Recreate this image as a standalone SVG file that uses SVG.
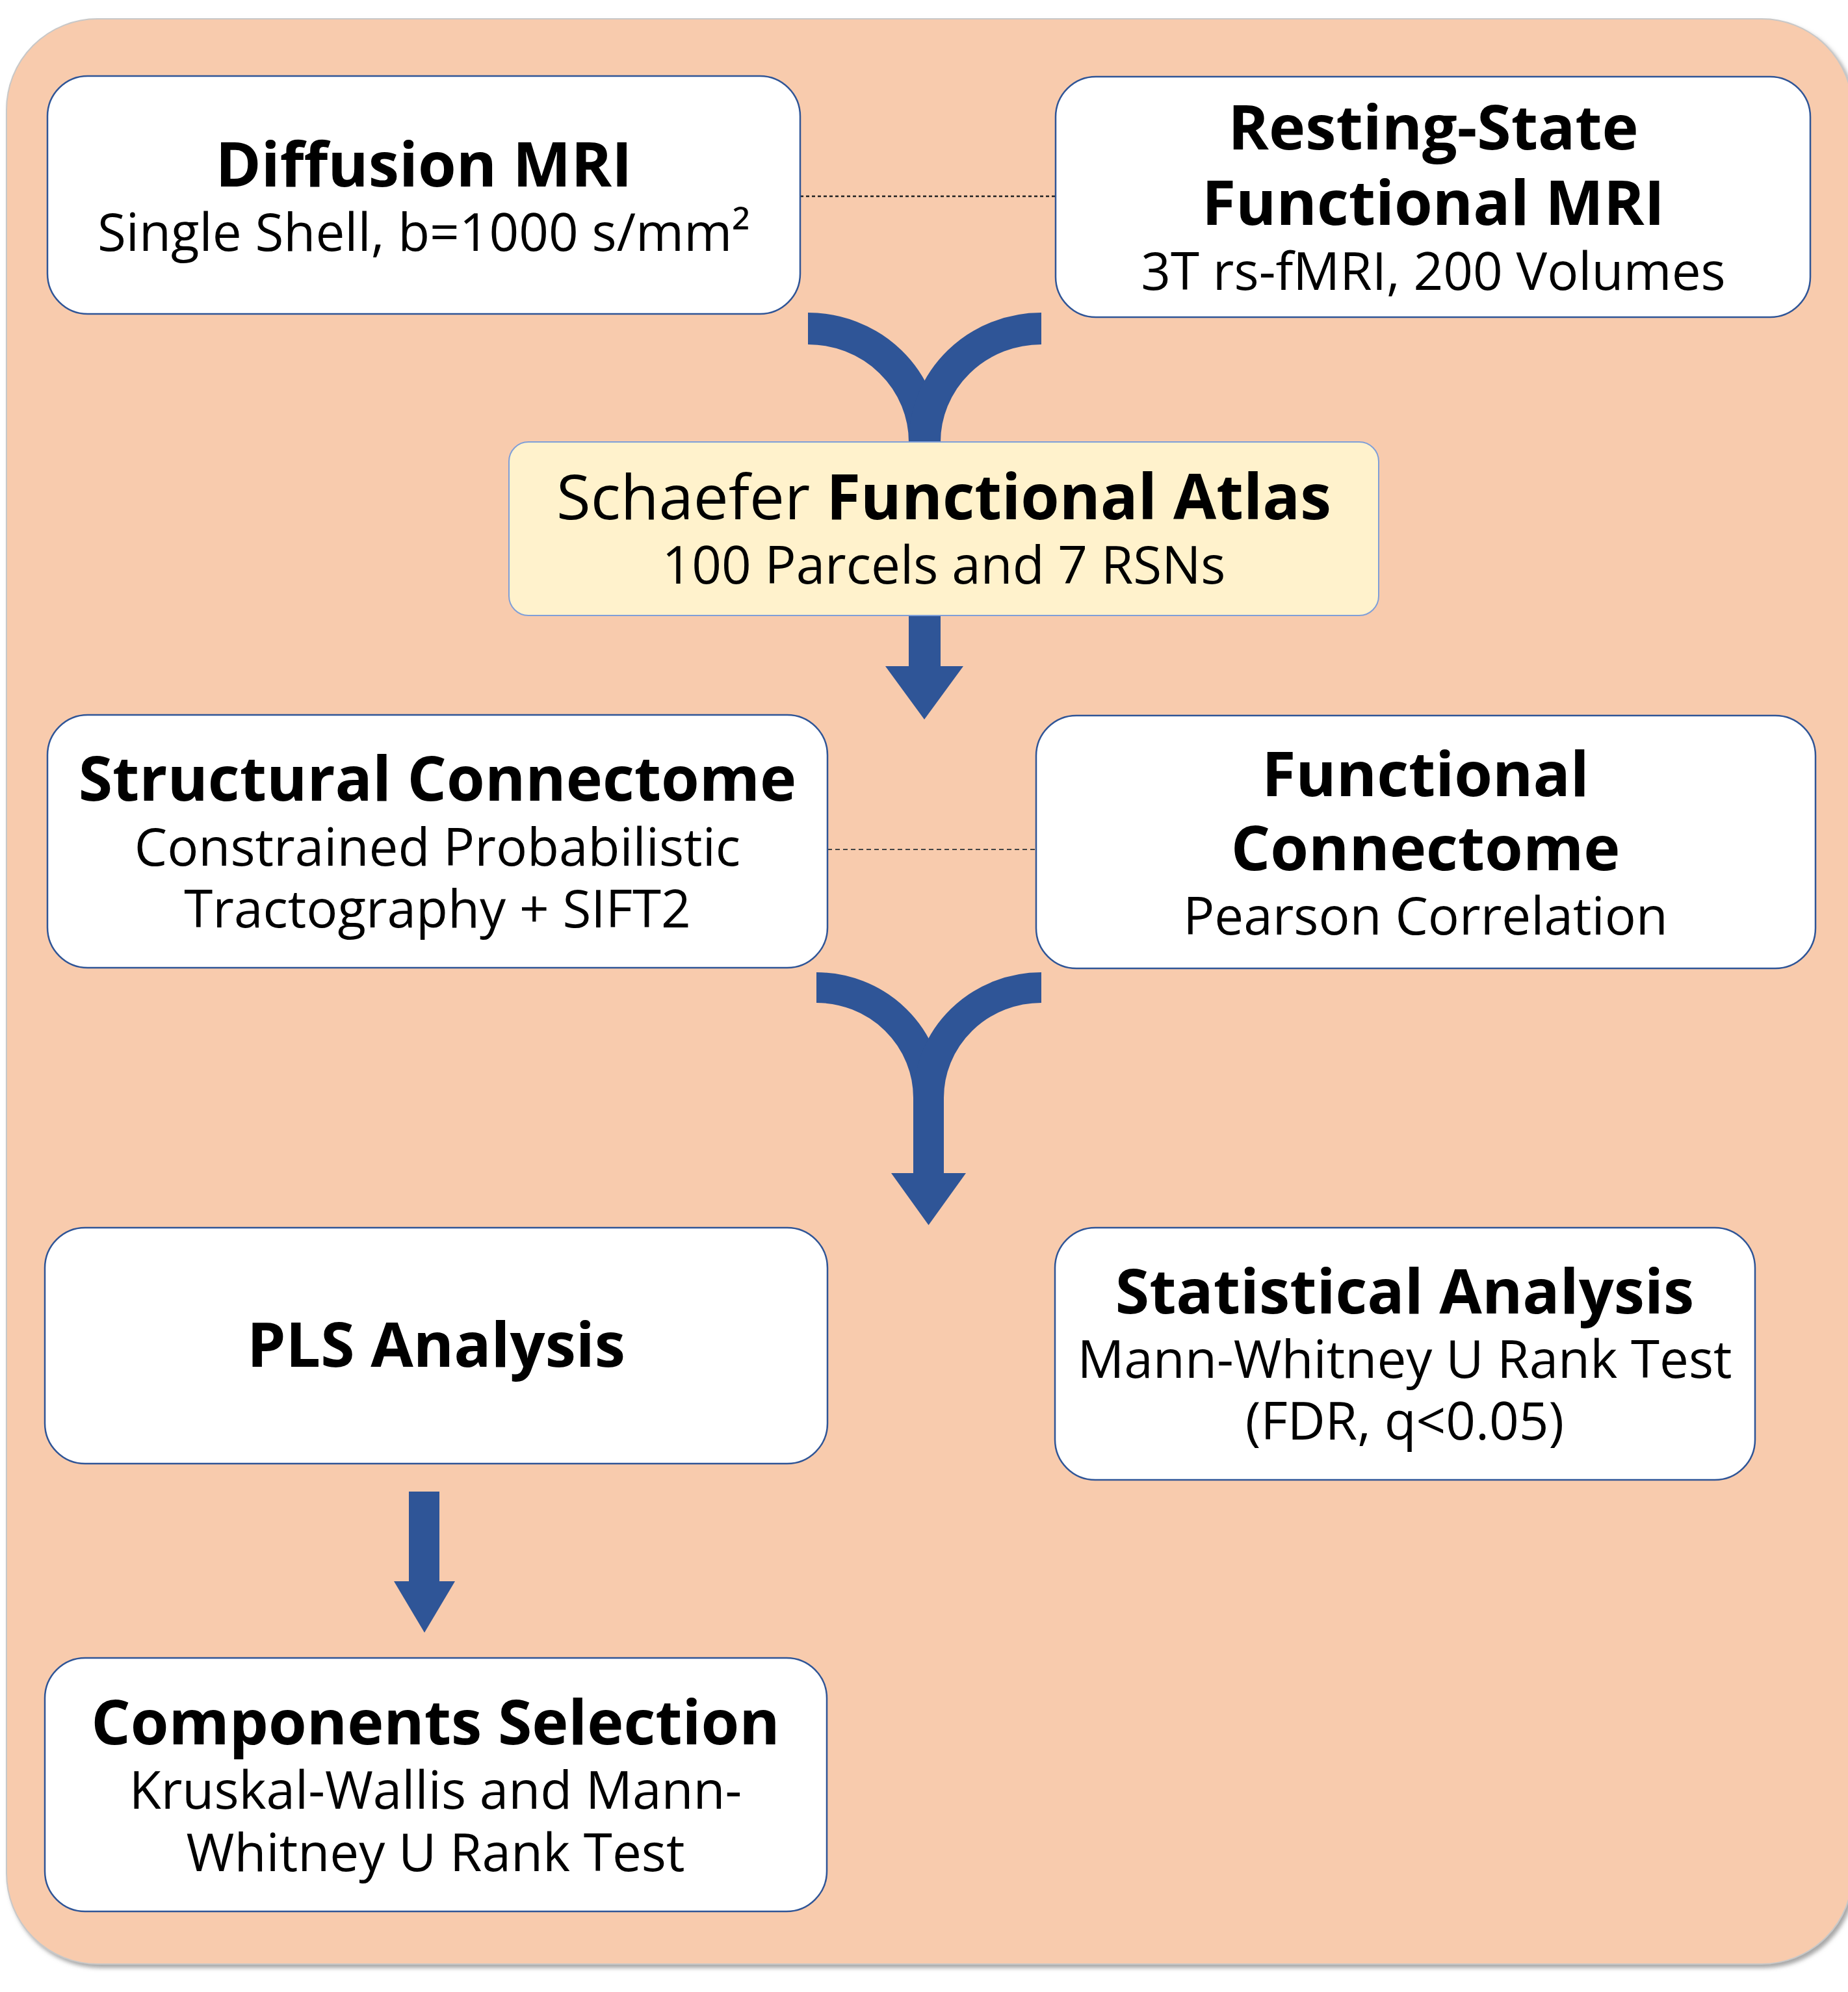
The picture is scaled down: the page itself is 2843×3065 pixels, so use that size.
<svg xmlns="http://www.w3.org/2000/svg" width="2843" height="3065" viewBox="0 0 2843 3065">
<style>
.box{fill:#FFFFFF;stroke:#2F5597;stroke-width:2.5}
.atlas{fill:#FFF2CC;stroke:#7F9FD8;stroke-width:2}
.t{font-family:"Open Sans","Noto Sans","Liberation Sans",sans-serif;fill:#000000;text-anchor:middle}
.b{font-weight:700;font-size:95px}
.r{font-weight:400;font-size:80px}
.arm{fill:none;stroke:#2F5597;stroke-linecap:butt}
.head{fill:#2F5597}
.dot{stroke:#222222;stroke-width:2.5;stroke-dasharray:5 4;fill:none}
</style>
<defs>
<filter id="sh" x="-5%" y="-5%" width="110%" height="110%">
<feDropShadow dx="4" dy="5" stdDeviation="3" flood-color="#808080" flood-opacity="0.7"/>
</filter>
</defs>
<rect x="10" y="29" width="2840" height="2993" rx="140" ry="140" fill="#F8CBAD" stroke="#C8C8C8" stroke-width="2" filter="url(#sh)"/>

<g id="connectors">
<line class="dot" x1="1231" y1="302" x2="1624" y2="302"/>
<line class="dot" x1="1273" y1="1307" x2="1594" y2="1307" style="stroke:#444444;stroke-width:2;stroke-dasharray:7 5"/>
<path class="arm" stroke-width="49" d="M1243,505.5 A179.5,174.5 0 0 1 1422.5,680"/>
<path class="arm" stroke-width="49" d="M1602,505.5 A179.5,174.5 0 0 0 1422.5,680"/>
<rect class="head" x="1398" y="946" width="49" height="80"/>
<polygon class="head" points="1362,1025 1482,1025 1422,1107"/>
<path class="arm" stroke-width="47" d="M1256,1519.5 A172.5,169.5 0 0 1 1428.5,1689 L1428.5,1806"/>
<path class="arm" stroke-width="47" d="M1602,1519.5 A173.5,169.5 0 0 0 1428.5,1689"/>
<polygon class="head" points="1371,1805 1486,1805 1428.5,1885"/>
<rect class="head" x="629" y="2295" width="47" height="139"/>
<polygon class="head" points="606,2433 700,2433 653,2512"/>
</g>

<g id="diffusion">
<rect class="box" x="73" y="117" width="1158" height="366" rx="62"/>
<text class="t b" x="652" y="287">Diffusion MRI</text>
<text class="t r" x="652" y="386">Single Shell, b=1000 s/mm²</text>
</g>

<g id="restingstate">
<rect class="box" x="1624" y="118" width="1161" height="370" rx="62"/>
<text class="t b" x="2205" y="230">Resting-State</text>
<text class="t b" x="2205" y="346">Functional MRI</text>
<text class="t r" x="2205" y="446">3T rs-fMRI, 200 Volumes</text>
</g>

<g id="atlas">
<rect class="atlas" x="783" y="680" width="1338" height="267" rx="30"/>
<text class="t" x="1452" y="799" style="font-size:96px"><tspan font-weight="400">Schaefer </tspan><tspan font-weight="700">Functional Atlas</tspan></text>
<text class="t r" x="1452" y="898">100 Parcels and 7 RSNs</text>
</g>

<g id="structural">
<rect class="box" x="73" y="1100" width="1200" height="389" rx="62"/>
<text class="t b" x="673" y="1232">Structural Connectome</text>
<text class="t r" x="673" y="1332">Constrained Probabilistic</text>
<text class="t r" x="673" y="1427">Tractography + SIFT2</text>
</g>

<g id="functional">
<rect class="box" x="1594" y="1101" width="1199" height="389" rx="62"/>
<text class="t b" x="2193" y="1225">Functional</text>
<text class="t b" x="2193" y="1339">Connectome</text>
<text class="t r" x="2193" y="1438">Pearson Correlation</text>
</g>

<g id="pls">
<rect class="box" x="69" y="1889" width="1204" height="363" rx="62"/>
<text class="t b" x="671" y="2103">PLS Analysis</text>
</g>

<g id="statistical">
<rect class="box" x="1623" y="1889" width="1077" height="388" rx="62"/>
<text class="t b" x="2161" y="2021">Statistical Analysis</text>
<text class="t r" x="2161" y="2120">Mann-Whitney U Rank Test</text>
<text class="t r" x="2161" y="2215">(FDR, q&lt;0.05)</text>
</g>

<g id="components">
<rect class="box" x="69" y="2551" width="1203" height="390" rx="62"/>
<text class="t b" x="670" y="2684">Components Selection</text>
<text class="t r" x="670" y="2783">Kruskal-Wallis and Mann-</text>
<text class="t r" x="670" y="2879">Whitney U Rank Test</text>
</g>
</svg>
